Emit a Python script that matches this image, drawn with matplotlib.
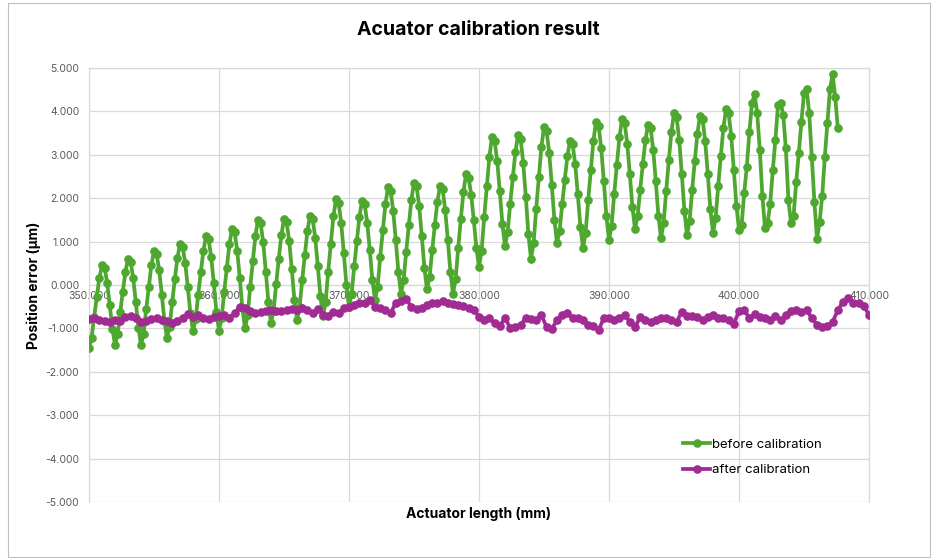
import numpy as np
import matplotlib
matplotlib.use("Agg")
import matplotlib.pyplot as plt
from matplotlib.ticker import FuncFormatter, MultipleLocator
from matplotlib.patches import Rectangle

plt.rcParams['font.family'] = ['Inter', 'DejaVu Sans']

# ---------------- data ----------------
before_x_start = 350000
before_x_step = 200
before_err = [
    -1.45, -1.22, -0.73, -0.27, 0.17, 0.45, 0.39, 0.05, -0.47, -1.01,
    -1.38, -1.14, -0.63, -0.15, 0.30, 0.60, 0.54, 0.16, -0.39, -0.98,
    -1.38, -1.12, -0.56, -0.04, 0.46, 0.78, 0.72, 0.34, -0.22, -0.82,
    -1.22, -0.96, -0.40, 0.13, 0.62, 0.95, 0.88, 0.51, -0.05, -0.65,
    -1.05, -0.79, -0.23, 0.30, 0.79, 1.12, 1.05, 0.64, 0.04, -0.62,
    -1.05, -0.77, -0.16, 0.40, 0.94, 1.29, 1.22, 0.79, 0.15, -0.54,
    -1.00, -0.70, -0.05, 0.55, 1.13, 1.50, 1.43, 0.98, 0.31, -0.40,
    -0.88, -0.59, 0.03, 0.61, 1.16, 1.52, 1.45, 1.01, 0.36, -0.34,
    -0.80, -0.51, 0.11, 0.69, 1.24, 1.60, 1.53, 1.09, 0.44, -0.26,
    -0.72, -0.40, 0.31, 0.95, 1.58, 1.98, 1.90, 1.43, 0.74, 0.00,
    -0.50, -0.21, 0.43, 1.01, 1.57, 1.94, 1.87, 1.44, 0.80, 0.11,
    -0.35, -0.04, 0.64, 1.26, 1.86, 2.25, 2.17, 1.71, 1.03, 0.29,
    -0.20, 0.11, 0.77, 1.38, 1.97, 2.35, 2.27, 1.81, 1.13, 0.39,
    -0.10, 0.19, 0.80, 1.38, 1.92, 2.28, 2.21, 1.73, 1.04, 0.30,
    -0.20, 0.13, 0.85, 1.51, 2.14, 2.55, 2.47, 2.08, 1.49, 0.85,
    0.42, 0.78, 1.56, 2.27, 2.96, 3.41, 3.32, 2.86, 2.16, 1.40,
    0.90, 1.21, 1.87, 2.48, 3.07, 3.45, 3.37, 2.82, 2.03, 1.17,
    0.60, 0.97, 1.76, 2.48, 3.18, 3.64, 3.55, 3.05, 2.31, 1.50,
    0.97, 1.25, 1.86, 2.43, 2.97, 3.32, 3.25, 2.78, 2.09, 1.34,
    0.85, 1.20, 1.96, 2.65, 3.32, 3.76, 3.67, 3.16, 2.40, 1.58,
    1.04, 1.37, 2.10, 2.76, 3.40, 3.82, 3.74, 3.26, 2.56, 1.80,
    1.29, 1.58, 2.20, 2.78, 3.33, 3.69, 3.62, 3.12, 2.39, 1.60,
    1.08, 1.43, 2.17, 2.87, 3.53, 3.96, 3.87, 3.34, 2.56, 1.71,
    1.15, 1.48, 2.20, 2.86, 3.49, 3.90, 3.82, 3.31, 2.55, 1.74,
    1.20, 1.54, 2.28, 2.97, 3.62, 4.05, 3.96, 3.44, 2.66, 1.83,
    1.27, 1.38, 2.12, 2.72, 3.53, 4.19, 4.39, 3.96, 3.11, 2.05,
    1.31, 1.43, 1.87, 2.65, 3.34, 4.15, 4.20, 3.92, 3.16, 1.96,
    1.43, 1.60, 2.37, 3.04, 3.76, 4.42, 4.52, 3.96, 2.95, 1.92,
    1.06, 1.45, 2.05, 2.95, 3.73, 4.52, 4.86, 4.34, 3.62,
]

after_x_start = 350000
after_x_step = 400
after_err = [
    -0.79, -0.77, -0.80, -0.83, -0.85, -0.81, -0.82, -0.73, -0.71, -0.76,
    -0.85, -0.83, -0.79, -0.75, -0.81, -0.84, -0.87, -0.82, -0.76, -0.66,
    -0.73,
    -0.69, -0.75, -0.78, -0.73, -0.71, -0.69, -0.75, -0.65, -0.50, -0.54,
    -0.61, -0.65, -0.63, -0.60, -0.58, -0.61, -0.60, -0.58, -0.55, -0.58,
    -0.54, -0.58, -0.65, -0.55,
    -0.68, -0.72, -0.62, -0.65,
    -0.54, -0.50, -0.46, -0.42, -0.41, -0.35, -0.50, -0.53, -0.58, -0.65,
    -0.41, -0.38, -0.33, -0.50, -0.56, -0.54, -0.46, -0.42, -0.41, -0.36,
    -0.42, -0.44, -0.46, -0.48, -0.53, -0.58, -0.73,
    -0.81, -0.76, -0.88, -0.94, -0.76, -0.99, -0.97, -0.92, -0.76, -0.78,
    -0.81, -0.69, -0.97, -1.01, -0.81, -0.69, -0.65, -0.76, -0.76, -0.81,
    -0.92, -0.94, -1.04, -0.76, -0.76, -0.81, -0.76, -0.69, -0.85, -0.97,
    -0.74, -0.81, -0.85, -0.81, -0.76, -0.76, -0.81, -0.85, -0.62, -0.71,
    -0.71, -0.74, -0.81, -0.74, -0.69, -0.76, -0.76, -0.81, -0.90, -0.60,
    -0.58, -0.76, -0.67, -0.74, -0.76, -0.81, -0.71, -0.81, -0.69, -0.60,
    -0.58, -0.62, -0.58, -0.76, -0.92, -0.97, -0.94, -0.85, -0.58, -0.39,
    -0.30, -0.41, -0.41, -0.48, -0.69,
]

series_labels = ["before calibration", "after calibration"]
title_text = "Acuator calibration result"
xlabel_text = "Actuator length (mm)"
ylabel_text = "Position error (\u00b5m)"

before_x = before_x_start + before_x_step * np.arange(len(before_err))
after_x = after_x_start + after_x_step * np.arange(len(after_err))

# ---------------- figure ----------------
W, H = 939, 559
fig = plt.figure(figsize=(W / 100, H / 100), dpi=100)
fig.patch.set_facecolor("white")

# chart border
fig.add_artist(Rectangle((8 / W, 2 / H), (930 - 8) / W, (556 - 2) / H,
                         transform=fig.transFigure, fill=False,
                         edgecolor="#bfbfbf", linewidth=0.8))

left, right, top, bottom = 89, 869, 68, 502
ax = fig.add_axes([left / W, 1 - bottom / H, (right - left) / W, (bottom - top) / H])

green = "#4ea72e"
purple = "#a02b93"
grid_c = "#d9d9d9"

ax.plot(before_x, before_err, color=green, lw=2.7, marker="o", ms=5.2,
        label=series_labels[0], zorder=3, solid_joinstyle="round")
ax.plot(after_x, after_err, color=purple, lw=2.7, marker="o", ms=5.2,
        label=series_labels[1], zorder=4, solid_joinstyle="round")

ax.set_xlim(350000, 410000)
ax.set_ylim(-5, 5)
ax.xaxis.set_major_locator(MultipleLocator(10000))
ax.yaxis.set_major_locator(MultipleLocator(1))
ax.xaxis.set_major_formatter(FuncFormatter(lambda v, p: f"{v:,.0f}".replace(",", ".")))
ax.yaxis.set_major_formatter(FuncFormatter(lambda v, p: f"{v:.3f}"))

ax.grid(True, color=grid_c, lw=0.9)
ax.set_axisbelow(True)
for s in ["top", "right", "left"]:
    ax.spines[s].set_color(grid_c)
    ax.spines[s].set_linewidth(0.9)
ax.spines["bottom"].set_position(("data", 0))
ax.spines["bottom"].set_color(grid_c)
ax.spines["bottom"].set_linewidth(0.9)

ax.tick_params(axis="both", length=0, labelsize=7.5, colors="#595959")
ax.tick_params(axis="x", pad=4)
ax.tick_params(axis="y", pad=7)

ax.set_ylabel(ylabel_text, fontsize=10, fontweight="bold", labelpad=3)
ax.text(0.5, -0.028, xlabel_text, transform=ax.transAxes, ha="center", va="center",
        fontsize=10, fontweight="bold")
fig.text(478 / W, 1 - 30 / H, title_text, ha="center", va="center",
         fontsize=14, fontweight="bold")

leg = ax.legend(loc="center left", bbox_to_anchor=(0.762, 0.1025), frameon=False,
                fontsize=9.5, borderpad=0, handlelength=2.0, handletextpad=0.2,
                labelspacing=1.0, borderaxespad=0)

fig.savefig("out.png", dpi=100, facecolor="white")
